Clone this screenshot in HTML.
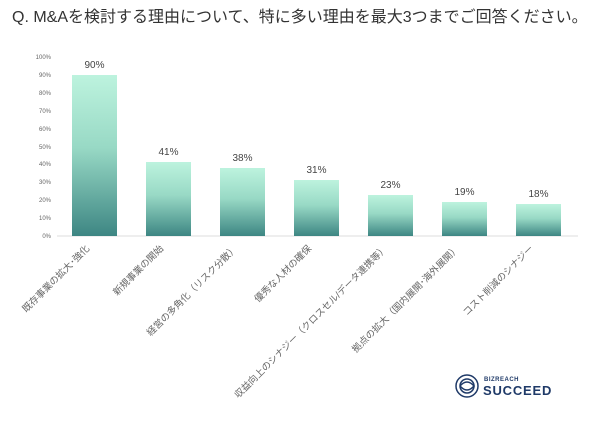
<!DOCTYPE html>
<html><head><meta charset="utf-8"><style>
body{margin:0;background:#fff;width:600px;height:423px;overflow:hidden;font-family:"Liberation Sans","Noto Sans CJK JP",sans-serif;}
</style></head><body>
<svg width="600" height="423" xmlns="http://www.w3.org/2000/svg" font-family="Liberation Sans, Noto Sans CJK JP, sans-serif">
<defs><linearGradient id="g" x1="0" y1="0" x2="0" y2="1">
<stop offset="0" stop-color="#bdf3de"/><stop offset="0.45" stop-color="#98d9c5"/><stop offset="1" stop-color="#3d8683"/></linearGradient></defs>
<text x="12" y="22" font-size="16" fill="#333">Q. M&amp;Aを検討する理由について、特に多い理由を最大3つまでご回答ください。</text>
<g font-size="6" fill="#666" text-anchor="end">
<text x="51" y="59">100%</text><text x="51" y="77">90%</text><text x="51" y="95">80%</text><text x="51" y="113">70%</text><text x="51" y="131">60%</text><text x="51" y="149">50%</text><text x="51" y="166">40%</text><text x="51" y="184">30%</text><text x="51" y="202">20%</text><text x="51" y="220">10%</text><text x="51" y="238">0%</text>
</g>
<line x1="57" y1="236" x2="578" y2="236" stroke="#ddd" stroke-width="1"/>
<g fill="url(#g)">
<rect x="72" y="75" width="45" height="161"/>
<rect x="146" y="162" width="45" height="74"/>
<rect x="220" y="168" width="45" height="68"/>
<rect x="294" y="180" width="45" height="56"/>
<rect x="368" y="195" width="45" height="41"/>
<rect x="442" y="202" width="45" height="34"/>
<rect x="516" y="204" width="45" height="32"/>
</g>
<g font-size="10" fill="#444" text-anchor="middle">
<text x="94.5" y="68">90%</text><text x="168.5" y="155">41%</text><text x="242.5" y="161">38%</text><text x="316.5" y="173">31%</text><text x="390.5" y="188">23%</text><text x="464.5" y="195">19%</text><text x="538.5" y="197">18%</text>
</g>
<g font-size="9.5" fill="#666" text-anchor="end">
<text transform="translate(90,249) rotate(-45)">既存事業の拡大･強化</text>
<text transform="translate(164,249) rotate(-45)">新規事業の開始</text>
<text transform="translate(238,249) rotate(-45)">経営の多角化（リスク分散）</text>
<text transform="translate(312,249) rotate(-45)">優秀な人材の確保</text>
<text transform="translate(388,249) rotate(-45)">収益向上のシナジー（クロスセル/データ連携等）</text>
<text transform="translate(460,249) rotate(-45)">拠点の拡大（国内展開･海外展開）</text>
<text transform="translate(534,249) rotate(-45)">コスト削減のシナジー</text>
</g>
<g transform="translate(467,386)" fill="none" stroke="#1f3a68" stroke-width="1.5">
<circle r="11"/><circle r="7"/><path d="M-7,0 Q0,-8 7,0 Q0,8 -7,0"/>
</g>
<text x="484" y="381" font-size="6" font-weight="bold" fill="#1f3a68" letter-spacing="0.5">BIZREACH</text>
<text x="483" y="395" font-size="13" font-weight="bold" fill="#1f3a68" letter-spacing="0.8">SUCCEED</text>
</svg>
</body></html>
